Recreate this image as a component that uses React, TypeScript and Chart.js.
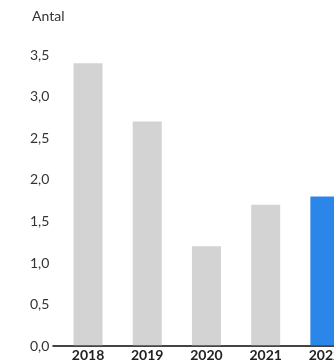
import React, { useEffect, useRef } from "react";
import { Chart, registerables } from "chart.js";

Chart.register(...registerables);

const years = ["2018", "2019", "2020", "2021", "2022"];
const values = [3.4, 2.7, 1.2, 1.7, 1.8];
const barColors = ["#d3d3d3", "#d3d3d3", "#d3d3d3", "#d3d3d3", "#2a87e9"];
const yTitle = "Antal";
const yMin = 0;
const yMax = 3.5;
const yStep = 0.5;

const FONT = "Lato, 'Noto Sans', sans-serif";

const titlePlugin = {
  id: "yTitleTop",
  afterDraw(chart: any) {
    const ctx = chart.ctx;
    ctx.save();
    ctx.font = `400 14px ${FONT}`;
    ctx.fillStyle = "#333";
    ctx.textAlign = "left";
    ctx.textBaseline = "middle";
    ctx.fillText(yTitle, 32, 16);
    ctx.restore();
  },
};

export default function App() {
  const ref = useRef<HTMLCanvasElement | null>(null);
  useEffect(() => {
    if (!ref.current) return;
    const chart = new Chart(ref.current, {
      type: "bar",
      data: {
        labels: years,
        datasets: [
          {
            data: values,
            backgroundColor: barColors,
            categoryPercentage: 0.7,
            barPercentage: 0.7,
          },
        ],
      },
      plugins: [titlePlugin],
      options: {
        animation: false,
        responsive: true,
        maintainAspectRatio: false,
        layout: { padding: { left: 27, top: 55, right: 5.5, bottom: 0 } },
        plugins: { legend: { display: false }, tooltip: { enabled: false } },
        scales: {
          x: {
            grid: { display: false, drawTicks: false },
            border: { display: true, color: "#444", width: 2 },
            ticks: {
              padding: 1,
              color: "#222",
              font: { family: FONT, size: 14, weight: "bold" },
            },
          },
          y: {
            min: yMin,
            max: yMax,
            border: { display: false },
            grid: {
              drawOnChartArea: false,
              drawTicks: true,
              tickLength: 6,
              lineWidth: 2,
              color: (c: any) => (c.tick && c.tick.value === 0 ? "#444" : "rgba(0,0,0,0)"),
            },
            ticks: {
              stepSize: yStep,
              padding: 3,
              color: "#333",
              font: { family: FONT, size: 14 },
              callback: (v: any) => Number(v).toFixed(1).replace(".", ","),
            },
          },
        },
      },
    });
    return () => chart.destroy();
  }, []);
  return (
    <div style={{ position: "absolute", left: 0, top: 0, width: 334, height: 361, overflow: "hidden" }}>
      <div style={{ position: "relative", width: 360, height: 365 }}>
        <canvas ref={ref} />
      </div>
    </div>
  );
}
